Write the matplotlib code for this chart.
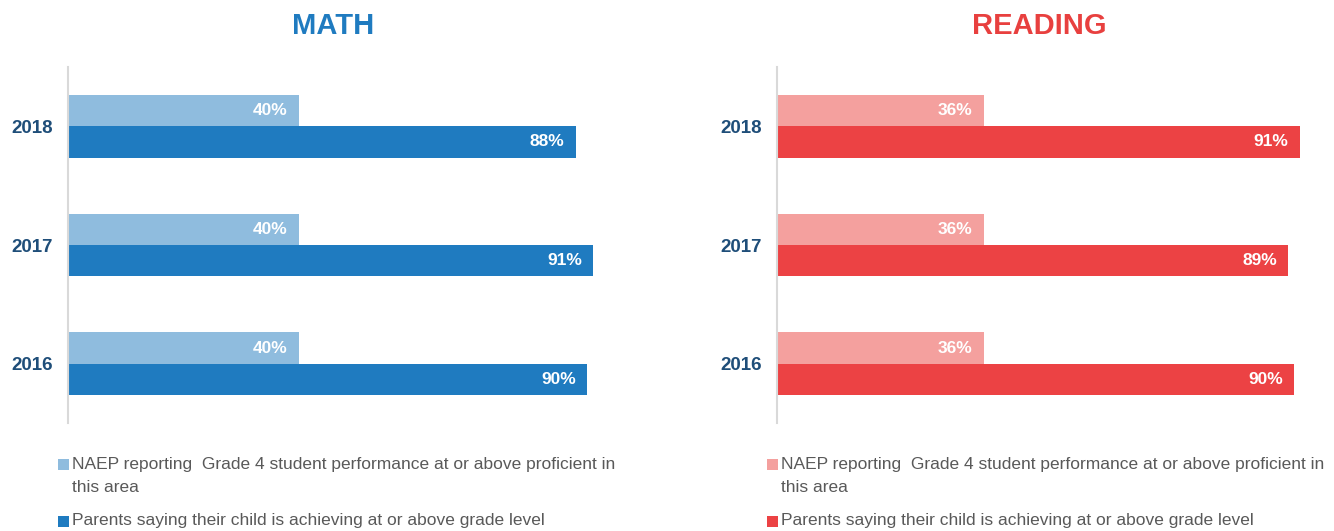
# Math / reading: NAEP proficiency vs. parent perception, grade 4
import matplotlib.pyplot as plt
import numpy as np
from matplotlib.patches import Rectangle

years = ["2016", "2017", "2018"]
math_naep = [40, 40, 40]
math_parents = [90, 91, 88]
reading_naep = [36, 36, 36]
reading_parents = [90, 89, 91]

naep_label = "NAEP reporting  Grade 4 student performance at or above proficient in\nthis area"
parent_label = "Parents saying their child is achieving at or above grade level"

W, H = 1334, 531
fig = plt.figure(figsize=(W / 100, H / 100), dpi=100)

YEAR_COLOR = "#1F4E79"
TEXT_GRAY = "#595959"
bar_h = 0.264


def px(x, y):
    # pixel coords (from top-left) -> figure fraction
    return x / W, 1 - y / H


def panel(left_px, scale, naep, parents, light, dark, title, title_color, title_x):
    ax = fig.add_axes([left_px / W, 108 / H, 100 * scale / W, 356 / H])
    y = np.arange(len(years))
    b1 = ax.barh(y + bar_h / 2, naep, height=bar_h, color=light)
    b2 = ax.barh(y - bar_h / 2, parents, height=bar_h, color=dark)
    for bars, vals in ((b1, naep), (b2, parents)):
        for rect, v in zip(bars, vals):
            ax.annotate(f"{v}%", (rect.get_width(), rect.get_y() + rect.get_height() / 2),
                        xytext=(-8, 0), textcoords="offset points",
                        ha="right", va="center", color="white",
                        fontsize=12.5, fontweight="bold", family="Liberation Sans")
    ax.set_xlim(0, 100)
    ax.set_ylim(-0.5, 2.5)
    ax.set_yticks(y)
    ax.set_yticklabels(years, fontsize=13.5, fontweight="bold", color=YEAR_COLOR,
                       family="Liberation Sans")
    ax.tick_params(axis="y", length=0, pad=11)
    ax.set_xticks([])
    for s in ("top", "right", "bottom"):
        ax.spines[s].set_visible(False)
    ax.spines["left"].set_color("#D9D9D9")
    ax.spines["left"].set_linewidth(1.5)

    tx, ty = px(title_x, 26)
    fig.text(tx, ty, title, ha="center", va="center", fontsize=21,
             fontweight="bold", color=title_color, family="Liberation Sans")

    # legend drawn by hand so the swatch lines up with the first text line
    sq_x = left_px - 10
    for ypx, col, lab in ((464, light, naep_label), (521, dark, parent_label)):
        x0, y0 = px(sq_x, ypx + 5.5)
        fig.add_artist(Rectangle((x0, y0), 11 / W, 11 / H, transform=fig.transFigure,
                                 color=col, lw=0))
        for i, line in enumerate(lab.split("\n")):
            tx, ty = px(sq_x + 14, ypx + i * 23)
            fig.text(tx, ty, line, ha="left", va="center", fontsize=12.5,
                     color=TEXT_GRAY, family="Liberation Sans")
    return ax


panel(68, 5.77, math_naep, math_parents, "#8FBCDE", "#1F7BC0", "MATH", "#1F7BC0", 333)
panel(777, 5.745, reading_naep, reading_parents, "#F4A09E", "#EC4244", "READING", "#E8403F", 1039)

fig.savefig("out.png", dpi=100)
